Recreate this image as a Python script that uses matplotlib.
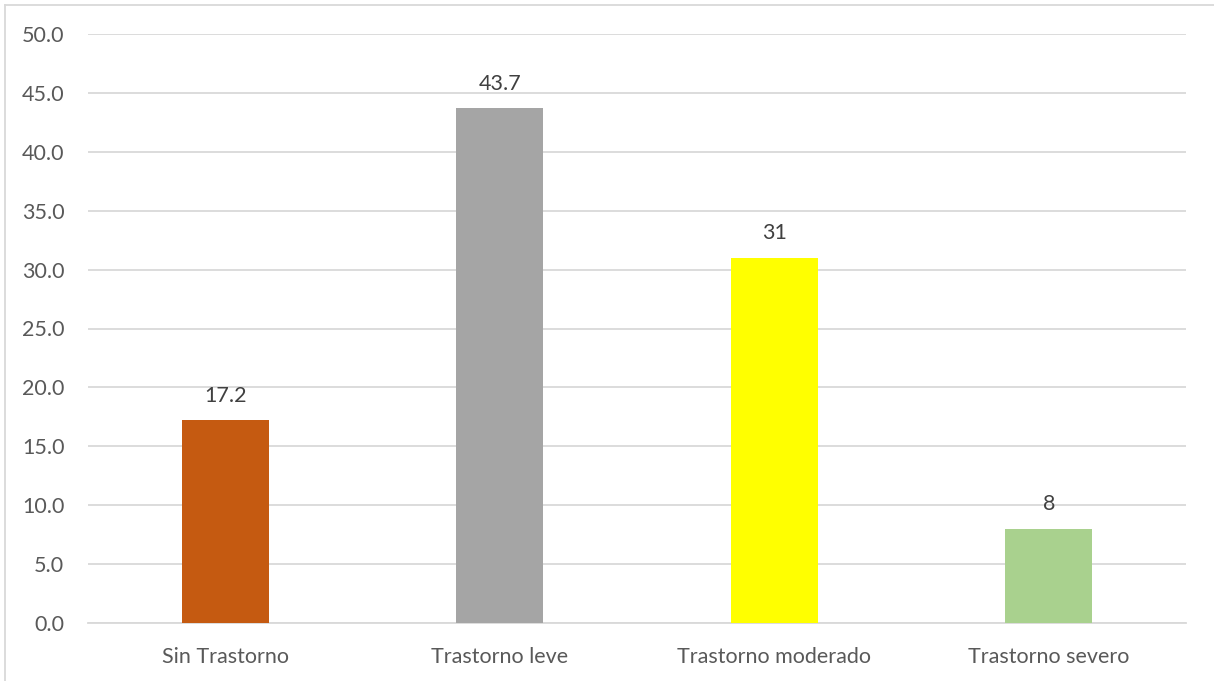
import matplotlib
matplotlib.use("Agg")
import matplotlib.pyplot as plt
from matplotlib.lines import Line2D

categories = ["Sin Trastorno", "Trastorno leve", "Trastorno moderado", "Trastorno severo"]
values = [17.2, 43.7, 31, 8]
labels = ["17.2", "43.7", "31", "8"]
colors = ["#C55A11", "#A5A5A5", "#FFFF00", "#A9D18E"]
yticks = [0, 5, 10, 15, 20, 25, 30, 35, 40, 45, 50]

plt.rcParams['font.family'] = ['Lato', 'DejaVu Sans']
text_color = "#595959"

fig = plt.figure(figsize=(12.14, 6.81), dpi=100)
W, H = 1214, 681
ax = fig.add_axes([88 / W, 1 - 623 / H, (1186 - 88) / W, (623 - 34) / H])

x = list(range(len(categories)))
ax.bar(x, values, width=0.318, color=colors, zorder=3)
for xi, v, lab in zip(x, values, labels):
    ax.annotate(lab, (xi, v), xytext=(0, 10.5), textcoords="offset points",
                ha="center", va="bottom", fontsize=15.5, color="#404040")

ax.set_xlim(-0.5, len(categories) - 0.5)
ax.set_ylim(0, 50)
ax.set_yticks(yticks)
ax.set_yticklabels([f"{t:.1f}" for t in yticks])
ax.set_xticks(x)
ax.set_xticklabels(categories)
ax.yaxis.grid(True, color="#D9D9D9", linewidth=1.3, zorder=0)
ax.set_axisbelow(True)
for s in ["top", "right", "left"]:
    ax.spines[s].set_visible(False)
ax.spines["bottom"].set_color("#D9D9D9")
ax.spines["bottom"].set_linewidth(1.3)
ax.tick_params(axis="both", length=0, labelsize=15.5, labelcolor=text_color)
ax.tick_params(axis="y", pad=17)
ax.tick_params(axis="x", pad=17.5)

# outer chart border (top and left visible)
fig.add_artist(Line2D([5 / W, 5 / W], [0, 1 - 4.5 / H], color="#D9D9D9", lw=1.3, transform=fig.transFigure))
fig.add_artist(Line2D([5 / W, 1], [1 - 4.5 / H, 1 - 4.5 / H], color="#D9D9D9", lw=1.3, transform=fig.transFigure))

fig.savefig("out.png", dpi=100)
